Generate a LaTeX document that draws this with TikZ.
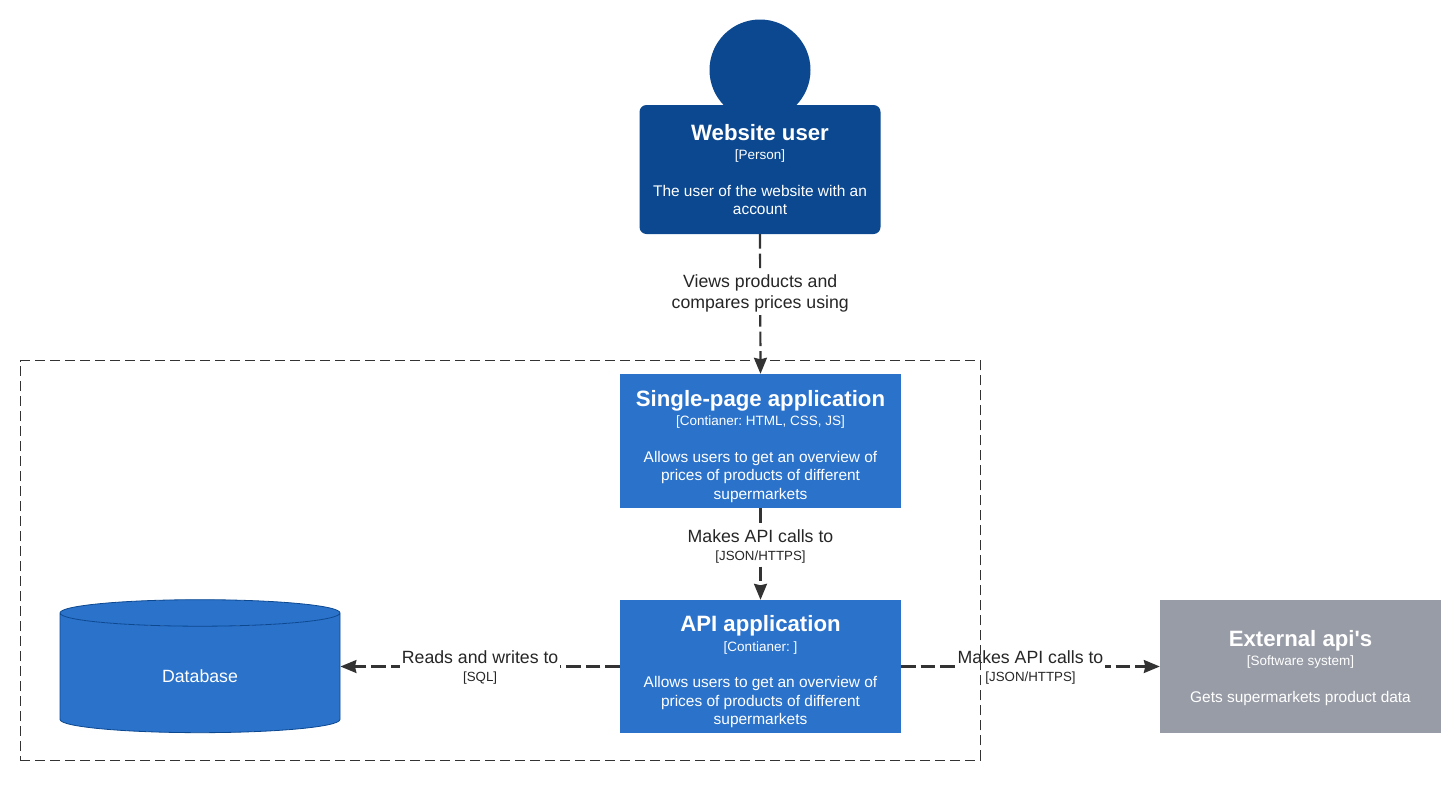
\documentclass[tikz,border=0pt]{standalone}
\usepackage{fontspec}
\setmainfont{Liberation Sans}
\usetikzlibrary{arrows.meta,shapes.geometric}

\definecolor{personblue}{HTML}{0B4890}
\definecolor{appblue}{HTML}{2B72CB}
\definecolor{extgrey}{HTML}{989CA6}
\definecolor{linedark}{HTML}{333333}

\newcommand{\boxtitle}[2][0pt]{\rule{0pt}{\dimexpr16pt+#1\relax}{\fontsize{22.2}{22}\selectfont\bfseries #2}}
\newcommand{\boxtag}[1]{{\fontsize{13.5}{13}\selectfont #1}}
\newcommand{\lbltag}[1]{{\fontsize{13.3}{13}\selectfont #1}}

\tikzset{
    card/.style={inner sep=0pt, text=white, align=center, minimum width=281pt, minimum height=134pt,
        font=\frenchspacing\fontsize{15.45}{18.5}\selectfont},
    conn/.style={draw=linedark, line width=2.2pt, dash pattern=on 14.5pt off 5pt,
        -{Stealth[length=16pt,width=13pt,inset=1.5pt]}},
    lbl/.style={fill=white, inner sep=2pt, align=center, text=black!85, font=\fontsize{17.7}{21.5}\selectfont},
}

\begin{document}
\begin{tikzpicture}[x=1pt, y=-1pt]
    \useasboundingbox (0, 0) rectangle (1456, 790);

    % person
    \node[circle, fill=personblue, minimum size=101pt, inner sep=0pt] (userhead) at (760, 70) {};
    \node[card, fill=personblue, rounded corners=7pt, minimum width=241pt, minimum height=129pt]
        (user) at (760, 169.5) {\boxtitle{Website user}\\[1pt]\boxtag{[Person]}\\[18pt]
        The user of the website with an\\account};

    %%%%%%%%%%%%%%%%%%%%%%%%%%%%%%%%%%%%%%%%%%%%%%%%%%%%%%

    \node[card, fill=appblue] (spa) at (760.5, 441) {\boxtitle[11pt]{Single-page application}\\[1pt]
        \boxtag{[Contianer: HTML, CSS, JS]}\\[18pt]
        Allows users to get an overview of\\prices of products of different\\supermarkets};
    \node[card, fill=appblue, minimum height=133pt] (api) at (760.5, 666.5) {\boxtitle[11pt]{API application}\\[1pt]
        \boxtag{[Contianer: ]}\\[18pt]
        Allows users to get an overview of\\prices of products of different\\supermarkets};
    \node[card, fill=extgrey, minimum height=133pt] (ext) at (1300.5, 666.5) {\boxtitle[3pt]{External api\textquotesingle s}\\[1pt]
        \boxtag{[Software system]}\\[18pt]
        Gets supermarkets product data};

    \node[cylinder, shape border rotate=90, aspect=0.35, draw=personblue, line width=0.8pt,
        cylinder uses custom fill, cylinder body fill=appblue, cylinder end fill=appblue,
        minimum width=280pt, minimum height=133pt, inner sep=0pt,
        font=\fontsize{17.7}{20}\selectfont] (db) at (200, 673) {\phantom{Database}};
    \node[text=white, font=\fontsize{17.7}{20}\selectfont] (dbtext) at (200, 676) {Database};

    %%%%%%%%%%%%%%%%%%%%%%%%%%%%%%%%%%%%%%%%%%%%%%%%%%%%%%

    \draw[conn] (user.south) -- node[lbl, pos=0.425] {Views products and\\compares prices using} (spa.north);
    \draw[conn] (spa.south) -- node[lbl, pos=0.42] {Makes API calls to\\[-3pt]\lbltag{[JSON/HTTPS]}} (api.north);
    \draw[conn] (api.west) -- node[lbl, yshift=-1pt] {Reads and writes to\\[-3pt]\lbltag{[SQL]}} (api.west -| db.east);
    \draw[conn] (api.east) -- node[lbl, yshift=-1pt] {Makes API calls to\\[-3pt]\lbltag{[JSON/HTTPS]}} (ext.west);

    %%%%%%%%%%%%%%%%%%%%%%%%%%%%%%%%%%%%%%%%%%%%%%%%%%%%%%

    \node[draw=linedark, line width=1pt, dash pattern=on 10pt off 5pt, minimum width=960pt, minimum height=399.5pt,
        inner sep=0pt] (bound) at (500, 560.5) {};
\end{tikzpicture}
\end{document}
